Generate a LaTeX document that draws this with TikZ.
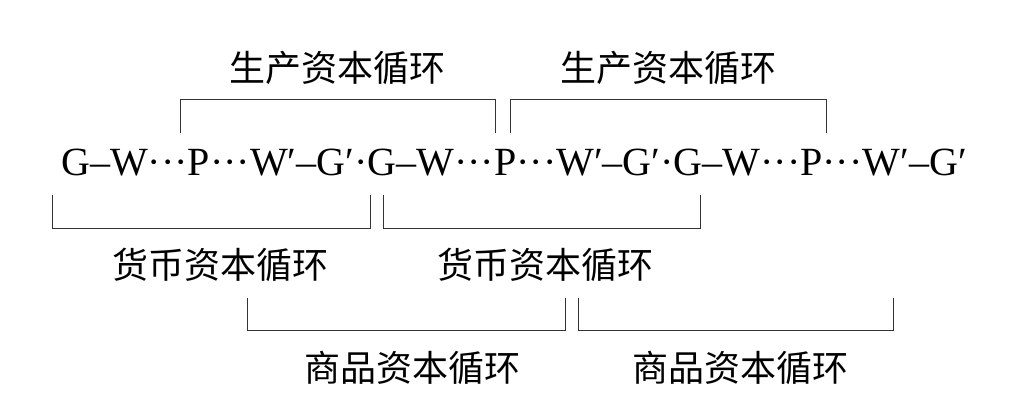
\documentclass[tikz,border=0pt]{standalone}
\usepackage{fontspec}
\setmainfont{Liberation Serif}
\newfontfamily\cjk{Noto Sans CJK SC}
\begin{document}
\begin{tikzpicture}[x=1pt,y=-1pt,
  lab/.style={font=\cjk\fontsize{36}{40}\selectfont,inner sep=0},
  br/.style={line width=1pt,black!80}]
\useasboundingbox (0,0) rectangle (1029,420);
\node[inner sep=0,font=\fontsize{40}{44}\selectfont] (f) at (514,163)
 {G–W···P···W′–G′·G–W···P···W′–G′·G–W···P···W′–G′};
\draw[br] (180,133) -- (180,100) -- (495,100) -- (495,133);
\draw[br] (510,133) -- (510,100) -- (826,100) -- (826,133);
\draw[br] (52,195) -- (52,228) -- (370,228) -- (370,195);
\draw[br] (383,195) -- (383,228) -- (700,228) -- (700,195);
\draw[br] (247,298) -- (247,330) -- (565,330) -- (565,298);
\draw[br] (578,298) -- (578,330) -- (893,330) -- (893,298);
\node[lab] (t1) at (337,68) {生产资本循环};
\node[lab] (t2) at (668,68) {生产资本循环};
\node[lab] (b1) at (220,265) {货币资本循环};
\node[lab] (b2) at (545,265) {货币资本循环};
\node[lab] (c1) at (412,368) {商品资本循环};
\node[lab] (c2) at (740,368) {商品资本循环};
\end{tikzpicture}
\end{document}
